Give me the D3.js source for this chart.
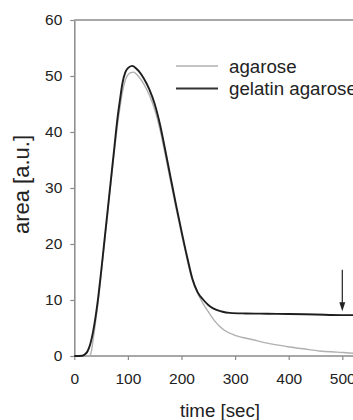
<!DOCTYPE html>
<html>
<head>
<meta charset="utf-8">
<script src="https://cdn.jsdelivr.net/npm/d3@7"></script>
<style>
  html, body { margin: 0; padding: 0; background: #fff; }
  svg { display: block; font-family: "Liberation Sans", Arial, sans-serif; }
</style>
</head>
<body>
<svg id="chart" width="353" height="420"></svg>
<script>
// time points (sec) and measured area (a.u.)
const gelatinTime = [0, 15, 20, 25, 30, 35, 40, 45, 50, 55, 60, 65, 70, 75, 80, 85, 90, 95, 100, 108,
  115, 120, 130, 140, 150, 160, 170, 180, 190, 200, 210, 220, 230, 241, 250, 259, 275, 290, 320, 360, 400, 450, 500, 540];
const gelatinArea = [0, 0.05, 0.3, 0.9, 2.2, 4.3, 7.2, 10.8, 15, 19.5, 24, 28.5, 33, 37.5, 42, 45.6, 48.8, 50.6, 51.4, 51.8,
  51.4, 50.9, 49.5, 47.6, 45, 41.3, 36.6, 31.7, 26.9, 22.3, 17.9, 13.9, 11.4, 10, 9.1, 8.5, 7.95, 7.7, 7.6, 7.55, 7.5, 7.4, 7.3, 7.3];

const agaroseTime = [0, 28, 30, 33, 36, 40, 45, 50, 55, 60, 65, 70, 75, 80, 85, 90, 95, 100, 105, 111,
  115, 120, 130, 140, 150, 160, 170, 180, 190, 200, 210, 220, 230, 240, 250, 260, 270, 280, 300, 334, 360, 396, 430, 458, 490, 520, 540];
const agaroseArea = [0, 0, 0.2, 1.5, 3.5, 6.3, 10, 14.5, 19, 23.5, 28, 32.5, 36.8, 40.8, 44.3, 47.2, 49.2, 50.2, 50.6, 50.7,
  50.4, 49.9, 48.5, 46.6, 44, 40.4, 35.8, 31, 26.3, 21.8, 17.5, 13.6, 11.2, 9.4, 7.9, 6.5, 5.4, 4.6, 3.7, 2.9, 2.3, 1.7, 1.25, 0.9, 0.7, 0.5, 0.4];

const xTicks = [0, 100, 200, 300, 400, 500];
const yTicks = [0, 10, 20, 30, 40, 50, 60];
const legendLabels = ["agarose", "gelatin agarose"];
const arrowTime = 500, arrowFrom = 15.4, arrowTo = 8.0;

const svg = d3.select("#chart");
const W = 353;

const x = d3.scaleLinear().domain([0, 500]).range([74.3, 342.3]);
const y = d3.scaleLinear().domain([0, 60]).range([356, 20]);

const axisColor = "#8a8a8a";

// top frame line
svg.append("line")
  .attr("x1", x(0)).attr("x2", W + 5)
  .attr("y1", y(60)).attr("y2", y(60))
  .attr("stroke", axisColor).attr("stroke-width", 1.5);

// y axis
const yAxis = svg.append("g")
  .attr("transform", `translate(${x(0)},0)`)
  .call(d3.axisLeft(y).tickValues(yTicks).tickSize(4).tickPadding(8).tickSizeOuter(0));
yAxis.select(".domain").attr("stroke", axisColor).attr("stroke-width", 1.5);
yAxis.selectAll(".tick line").attr("stroke", axisColor).attr("stroke-width", 1.2);
yAxis.selectAll(".tick text").attr("font-size", 15.5).attr("fill", "#222")
  .attr("font-family", "Liberation Sans, Arial, sans-serif");

// x axis
const xAxis = svg.append("g")
  .attr("transform", `translate(0,${y(0)})`)
  .call(d3.axisBottom(x).tickValues(xTicks).tickSize(4).tickPadding(13).tickSizeOuter(0));
xAxis.select(".domain").attr("d", `M${x(0)},0H${W + 5}`)
  .attr("stroke", axisColor).attr("stroke-width", 1.5);
xAxis.selectAll(".tick line").attr("stroke", axisColor).attr("stroke-width", 1.2);
xAxis.selectAll(".tick text").attr("font-size", 15.5).attr("fill", "#222")
  .attr("font-family", "Liberation Sans, Arial, sans-serif");

// axis titles
svg.append("text")
  .attr("transform", "translate(28.5,184.5) rotate(-90)")
  .attr("text-anchor", "middle")
  .attr("font-size", 22).attr("fill", "#222")
  .text("area [a.u.]");
svg.append("text")
  .attr("x", 220).attr("y", 416.5)
  .attr("text-anchor", "middle")
  .attr("font-size", 18.7).attr("fill", "#222")
  .text("time [sec]");

// curves
const line = d3.line().curve(d3.curveMonotoneX).x(d => x(d[0])).y(d => y(d[1]));
const agarose = d3.zip(agaroseTime, agaroseArea);
const gelatin = d3.zip(gelatinTime, gelatinArea);

svg.append("path").datum(agarose)
  .attr("d", line).attr("fill", "none")
  .attr("stroke", "#b0b0b0").attr("stroke-width", 1.4);
svg.append("path").datum(gelatin)
  .attr("d", line).attr("fill", "none")
  .attr("stroke", "#1e1e1e").attr("stroke-width", 1.9);

// arrow marking t = 500 s
const ax = x(arrowTime);
svg.append("line")
  .attr("x1", ax).attr("x2", ax)
  .attr("y1", y(arrowFrom)).attr("y2", y(arrowTo) - 6)
  .attr("stroke", "#222").attr("stroke-width", 1.2);
svg.append("path")
  .attr("d", `M${ax - 3},${y(arrowTo) - 9}L${ax},${y(arrowTo)}L${ax + 3},${y(arrowTo) - 9}Z`)
  .attr("fill", "#222");

// legend
const legend = svg.append("g");
const legendStyles = [
  { stroke: "#b0b0b0", width: 1.4 },
  { stroke: "#333", width: 2.2 }
];
legendLabels.forEach((label, i) => {
  const ly = 66 + i * 22.5;
  legend.append("line")
    .attr("x1", 176).attr("x2", 218)
    .attr("y1", ly).attr("y2", ly)
    .attr("stroke", legendStyles[i].stroke).attr("stroke-width", legendStyles[i].width);
  legend.append("text")
    .attr("x", 229).attr("y", ly).attr("dy", "0.35em")
    .attr("font-size", 18.7).attr("fill", "#222")
    .text(label);
});
</script>
</body>
</html>
